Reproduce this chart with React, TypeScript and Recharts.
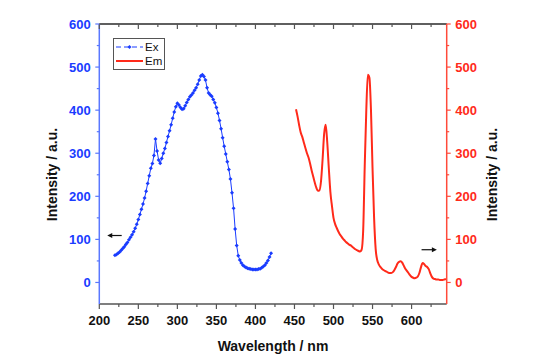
import React from "react";
import { LineChart, Line, XAxis, YAxis, ReferenceLine } from "recharts";

// excitation spectrum (blue, left axis)
const exWavelength = [
  220, 222, 224, 226, 228, 230, 232, 234, 236, 238, 240, 242, 244, 246, 248, 250, 252, 254, 256, 258,
  260, 262, 264, 266, 268, 270, 272, 274, 276, 278, 280, 282, 284, 286, 288, 290, 292, 294, 296, 298,
  300, 302, 304, 306, 308, 310, 312, 314, 316, 318, 320, 322, 324, 326, 328, 330, 332, 334, 336, 338,
  340, 342, 344, 346, 348, 350, 352, 354, 356, 358, 360, 362, 364, 366, 368, 370, 372, 374, 376, 378,
  380, 382, 384, 386, 388, 390, 392, 394, 396, 398, 400, 402, 404, 406, 408, 410, 412, 414, 416, 418, 420,
];
const exIntensity = [
  63, 65, 68, 71, 75, 79, 83, 88, 93, 99, 105, 111, 118, 126, 135, 146, 158, 170, 182, 196,
  212, 230, 248, 265, 276, 295, 333, 305, 284, 277, 288, 300, 311, 325, 339, 352, 366, 381, 396, 408,
  416, 412, 406, 402, 403, 410, 418, 425, 431, 435, 440, 446, 452, 460, 470, 479, 482, 478, 470, 452,
  440, 436, 432, 425, 417, 406, 393, 376, 357, 336, 316, 298, 280, 262, 240, 208, 172, 124, 86, 62,
  52, 45, 40, 37, 35, 33, 32, 31, 30, 30, 30, 30, 31, 32, 34, 37, 40, 45, 51, 59, 68,
];

// emission spectrum (red, right axis)
const emWavelength = [
  452, 454, 456, 458, 460, 462, 464, 466, 468, 470, 472, 474, 476, 478, 480, 482, 484, 486, 488, 490,
  492, 494, 496, 498, 500, 502, 504, 506, 508, 510, 512, 514, 516, 518, 520, 522, 524, 526, 528, 530,
  532, 534, 536, 538, 540, 542, 544, 546, 548, 550, 552, 554, 556, 558, 560, 562, 564, 566, 568, 570,
  572, 574, 576, 578, 580, 582, 584, 586, 588, 590, 592, 594, 596, 598, 600, 602, 604, 606, 608, 610,
  612, 614, 616, 618, 620, 622, 624, 626, 628, 630, 632, 634, 636, 638, 640, 642, 644,
];
const emIntensity = [
  402, 385, 365, 348, 338, 325, 312, 300, 290, 276, 260, 246, 232, 220, 213, 214, 235, 285, 345, 366,
  325, 265, 210, 178, 150, 136, 127, 119, 112, 107, 102, 98, 94, 91, 88, 86, 83, 80, 77, 75,
  73, 72, 76, 120, 270, 400, 482, 475, 400, 265, 150, 78, 52, 42, 36, 32, 29, 27, 25, 23,
  22, 22, 24, 29, 36, 44, 48, 49, 46, 39, 32, 27, 22, 17, 13, 11, 10, 11, 14, 22,
  35, 45, 43, 38, 36, 31, 21, 13, 9, 8, 7, 7, 6, 6, 6, 7, 8,
];

const xTicks = [200, 225, 250, 275, 300, 325, 350, 375, 400, 425, 450, 475, 500, 525, 550, 575, 600, 625];
const yTicks = [0, 50, 100, 150, 200, 250, 300, 350, 400, 450, 500, 550, 600];

const BLUE = "#1a3cff";
const BLUE_AXIS = "#5a78ff";
const RED = "#ff2a1a";
const RED_AXIS = "#ff4a3a";
const GRAY = "#555555";
const FONT = "'Liberation Sans', Arial, sans-serif";

const exData = exWavelength.map((w, i) => ({ w, v: exIntensity[i] }));
const emData = emWavelength.map((w, i) => ({ w, v: emIntensity[i] }));

const BottomTick = (props: any) => {
  const { x, y, payload } = props;
  const major = payload.value % 50 === 0;
  return (
    <g>
      <line x1={x} y1={y} x2={x} y2={y + (major ? 5 : 3)} stroke={GRAY} strokeWidth={1.2} />
      {major && (
        <text x={x} y={y + 16} textAnchor="middle" dominantBaseline="central"
          fontFamily={FONT} fontWeight="bold" fontSize={13} fill="#111">
          {payload.value}
        </text>
      )}
    </g>
  );
};

const TopTick = (props: any) => {
  const { x, y, payload } = props;
  const major = payload.value % 50 === 0;
  return <line x1={x} y1={y} x2={x} y2={y + (major ? 5 : 3)} stroke={GRAY} strokeWidth={1.2} />;
};

const makeYTick = (side: "left" | "right", color: string, axisColor: string) => (props: any) => {
  const { x, y, payload } = props;
  const major = payload.value % 100 === 0;
  const dir = side === "left" ? -1 : 1;
  return (
    <g>
      <line x1={x} y1={y} x2={x + dir * (major ? 4 : 2.5)} y2={y} stroke={axisColor} strokeWidth={1.2} />
      {major && (
        <text x={x + dir * 8.5} y={y} textAnchor={side === "left" ? "end" : "start"} dominantBaseline="central"
          fontFamily={FONT} fontWeight="bold" fontSize={13} fill={color}>
          {payload.value}
        </text>
      )}
    </g>
  );
};

const Diamond = (props: any) => {
  const { cx, cy } = props;
  if (cx == null || cy == null) return null;
  const s = 2;
  return <polygon points={`${cx},${cy - s} ${cx + s},${cy} ${cx},${cy + s} ${cx - s},${cy}`} fill={BLUE} />;
};

const arrow = (dir: number) => (props: any) => {
  const { x1, y1, x2, y2 } = props;
  return (
    <g>
      <line x1={x1} y1={y1} x2={x2 - dir * 3} y2={y2} stroke="#111" strokeWidth={1.2} />
      <polygon points={`${x2},${y2} ${x2 - dir * 5},${y2 - 2.5} ${x2 - dir * 5},${y2 + 2.5}`} fill="#111" />
    </g>
  );
};

const LegendBox = () => (
  <div style={{ position: "absolute", left: 105, top: 30, width: 50, height: 30, border: `1px solid ${GRAY}`, background: "#fff" }}>
    <svg width={50} height={30} style={{ position: "absolute", left: 0, top: 0, overflow: "visible" }}>
      <line x1={2} y1={8} x2={29} y2={8} stroke={BLUE} strokeWidth={1} strokeDasharray="5 3" />
      <polygon points="15.5,6 17.5,8 15.5,10 13.5,8" fill={BLUE} />
      <line x1={2} y1={22} x2={29} y2={22} stroke={RED} strokeWidth={2} />
      <text x={31} y={8} dominantBaseline="central" fontFamily={FONT} fontSize={11.5} fill="#111">Ex</text>
      <text x={31} y={22} dominantBaseline="central" fontFamily={FONT} fontSize={11.5} fill="#111">Em</text>
    </svg>
  </div>
);

const axisTitle = (x: number, y: number, rotate: boolean, text: string) => () => (
  <text x={x} y={y} textAnchor="middle" dominantBaseline="central" fontFamily={FONT} fontWeight="bold"
    fontSize={14} fill="#111" transform={rotate ? `rotate(-90 ${x} ${y})` : undefined}>
    {text}
  </text>
);

export default function App() {
  return (
    <div style={{ position: "relative", width: 530, height: 346 }}>
      <LineChart width={530} height={346} margin={{ top: 15, right: 0, bottom: 0, left: 0 }}>
        <XAxis xAxisId="bottom" dataKey="w" type="number" domain={[200, 645]} ticks={xTicks} interval={0}
          allowDataOverflow height={50} tickSize={0} tickMargin={0} tickLine={false} tick={<BottomTick />}
          axisLine={{ stroke: GRAY, strokeWidth: 1.5 }}
          label={{ content: axisTitle(265, 338, false, "Wavelength / nm") }} />
        <XAxis xAxisId="top" orientation="top" dataKey="w" type="number" domain={[200, 645]} ticks={xTicks} interval={0}
          allowDataOverflow height={1} tickSize={0} tickMargin={0} tickLine={false} tick={<TopTick />}
          axisLine={{ stroke: GRAY, strokeWidth: 1.5 }} />
        <YAxis yAxisId="left" orientation="left" type="number" domain={[-50, 600]} ticks={yTicks} interval={0}
          allowDataOverflow width={91.3} tickSize={0} tickMargin={0} tickLine={false}
          tick={makeYTick("left", BLUE, BLUE_AXIS)} axisLine={{ stroke: BLUE_AXIS, strokeWidth: 1.5 }}
          label={{ content: axisTitle(43.7, 166.5, true, "Intensity / a.u.") }} />
        <YAxis yAxisId="right" orientation="right" type="number" domain={[-50, 600]} ticks={yTicks} interval={0}
          allowDataOverflow width={91.3} tickSize={0} tickMargin={0} tickLine={false}
          tick={makeYTick("right", RED, RED_AXIS)} axisLine={{ stroke: RED_AXIS, strokeWidth: 1.5 }}
          label={{ content: axisTitle(484, 166.5, true, "Intensity / a.u.") }} />
        <ReferenceLine xAxisId="bottom" yAxisId="left" y={600} stroke={GRAY} strokeWidth={1.5} />
        <Line xAxisId="top" yAxisId="left" data={exData} dataKey="v" name="Ex" type="linear"
          stroke={BLUE} strokeWidth={1} dot={<Diamond />} activeDot={false} isAnimationActive={false} />
        <Line xAxisId="bottom" yAxisId="right" data={emData} dataKey="v" name="Em" type="monotone"
          stroke={RED} strokeWidth={2} dot={false} activeDot={false} isAnimationActive={false} />
        <ReferenceLine xAxisId="bottom" yAxisId="left" segment={[{ x: 228.7, y: 109 }, { x: 210.2, y: 109 }]}
          shape={arrow(-1)} />
        <ReferenceLine xAxisId="bottom" yAxisId="right" segment={[{ x: 612.8, y: 76 }, { x: 632.4, y: 76 }]}
          shape={arrow(1)} />
      </LineChart>
      <LegendBox />
    </div>
  );
}
